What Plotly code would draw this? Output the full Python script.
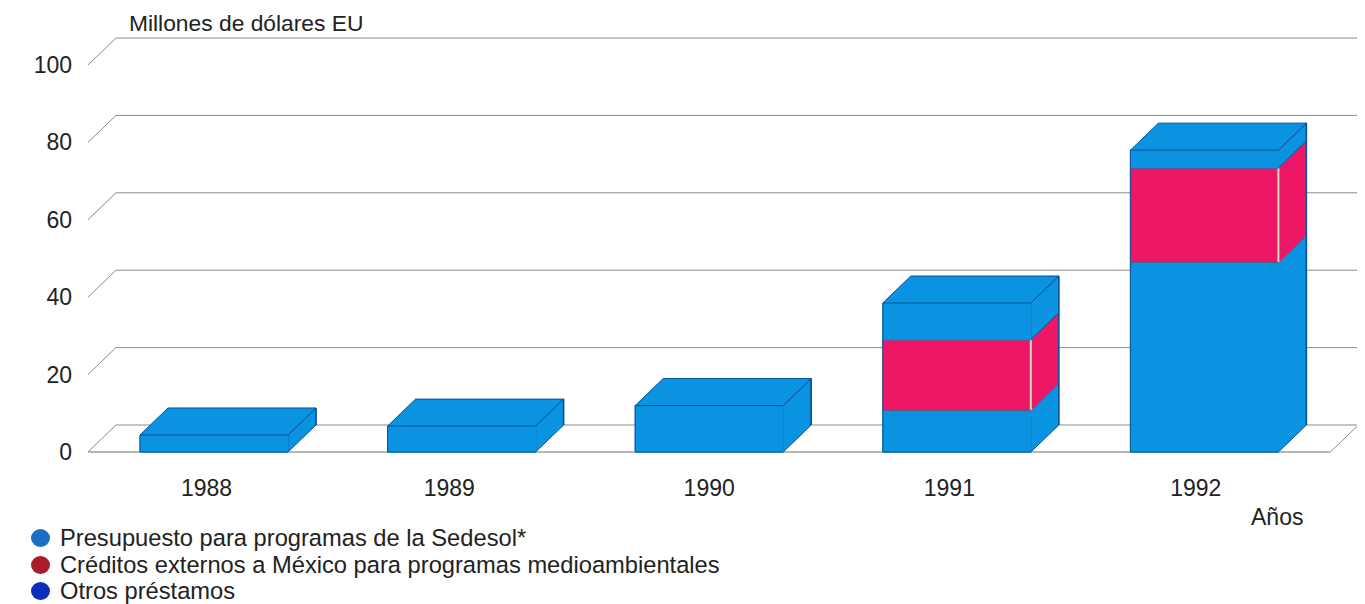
import plotly.graph_objects as go

years = ["1988", "1989", "1990", "1991", "1992"]
presupuesto = [4.4, 6.7, 12.0, 10.8, 49.0]
creditos = [0, 0, 0, 18.2, 24.4]
otros = [0, 0, 0, 9.5, 4.6]
y_ticks = [0, 20, 40, 60, 80, 100]
series_names = ["Presupuesto para programas de la Sedesol*",
                "Créditos externos a México para programas medioambientales",
                "Otros préstamos"]
legend_colors = ["#1a6fc4", "#a81c2c", "#0a2fb8"]
year_label_shift = [-0.03, -0.05, 0.0, -0.03, -0.035]

BLUE = "#0a93e0"
PINK = "#ee1766"
EDGE_BLUE = "#07509a"
GRID = "#8a8a86"
FONT = "Liberation Sans"
TEXT = "#222222"

# The page has an 8px body margin, so the figure starts at (8, 8).
W, H = 1357, 596
LEFT, TOP, BOTTOM = 73, 8, 472  # plot-area edges in page pixels
PX_X = 247.6
PX_Y = 3.87
DX = 28 / PX_X
DY = 27 / PX_Y
HALF = 74 / PX_X
FLOOR_L = -0.509
FLOOR_R = 4.509
BACK_R = 4.65


def px(x):
    return (x - LEFT) / (1365 - LEFT)


def py(y):
    return (BOTTOM - y) / (BOTTOM - TOP)


fig = go.Figure()


def poly(xs, ys, fill=None, line=GRID, width=1, name=None):
    fig.add_trace(go.Scatter(
        x=xs + [xs[0]] if fill else xs, y=ys + [ys[0]] if fill else ys,
        mode="lines", fill="toself" if fill else None, fillcolor=fill,
        line=dict(color=line, width=width), hoverinfo="skip", showlegend=False,
        name=name))


# floor and back wall
poly([FLOOR_L, FLOOR_L + DX, FLOOR_R + DX, FLOOR_R], [0, DY, DY, 0], "#ffffff", GRID)
poly([FLOOR_L, FLOOR_R], [0, 0], None, "#a9a9a5")
for t in y_ticks[1:]:
    poly([FLOOR_L, FLOOR_L + DX, BACK_R], [t, t + DY, t + DY], None, GRID)

# bars
for i in range(len(years)):
    x0, x1 = i - HALF, i + HALF
    base = 0
    layers = [(presupuesto[i], BLUE, series_names[0]),
              (creditos[i], PINK, series_names[1]),
              (otros[i], BLUE, series_names[2])]
    top = sum(v for v, _, _ in layers)
    for v, c, nm in layers:
        if v == 0:
            continue
        b, t = base, base + v
        poly([x1, x1 + DX, x1 + DX, x1], [b, b + DY, t + DY, t], c,
             EDGE_BLUE if c == BLUE else PINK, name=nm)
        poly([x0, x1, x1, x0], [b, b, t, t], c, c, name=nm)
        if c == PINK:
            poly([x1, x1], [b, t], None, "#c8dcc4", 2)
            poly([x0, x1], [b, b], None, "#2e6f88", 1)
            poly([x0, x1], [t, t], None, "#5a4f78", 1)
        base = t
    poly([x0, x0 + DX, x1 + DX, x1], [top, top + DY, top + DY, top], BLUE, EDGE_BLUE)
    poly([x0, x0], [0, top], None, EDGE_BLUE)
    poly([x0, x1], [0, 0], None, EDGE_BLUE)
    poly([x1 + DX, x1 + DX], [DY, top + DY], None, EDGE_BLUE, 1.5)

annotations = [
    dict(text="Millones de dólares EU", xref="paper", yref="paper",
         x=px(127), y=py(23), xanchor="left", yanchor="middle",
         showarrow=False, font=dict(size=22.8)),
    dict(text="Años", xref="paper", yref="paper",
         x=px(1277), y=py(517), xanchor="center", yanchor="middle",
         showarrow=False, font=dict(size=23)),
]
shapes = []
legend_y = [538, 565, 591]
for name, col, ly in zip(series_names, legend_colors, legend_y):
    annotations.append(dict(text=name, xref="paper", yref="paper", x=px(58), y=py(ly),
                            xanchor="left", yanchor="middle", showarrow=False,
                            font=dict(size=23.7)))
    shapes.append(dict(type="circle", xref="paper", yref="paper",
                       x0=px(31), x1=px(50), y0=py(ly + 9), y1=py(ly - 9),
                       fillcolor=col, line=dict(color=col, width=0)))

fig.update_layout(
    width=W, height=H, autosize=False, showlegend=False,
    margin=dict(l=LEFT - 8, r=0, t=TOP - 8, b=H - (BOTTOM - 8)),
    paper_bgcolor="#ffffff", plot_bgcolor="#ffffff",
    font=dict(family=FONT, size=23, color=TEXT),
    xaxis=dict(range=[(LEFT - 214) / PX_X, (1365 - 214) / PX_X], tickmode="array",
               tickvals=[i + s for i, s in enumerate(year_label_shift)], ticktext=years,
               showgrid=False, zeroline=False, showline=False, ticks="", fixedrange=True),
    yaxis=dict(range=[(452 - BOTTOM) / PX_Y, (452 - TOP) / PX_Y], tickmode="array",
               tickvals=y_ticks, ticktext=[str(t) for t in y_ticks],
               showgrid=False, zeroline=False, showline=False, ticks="", fixedrange=True),
    annotations=annotations, shapes=shapes,
)

fig.write_html("out.html")
